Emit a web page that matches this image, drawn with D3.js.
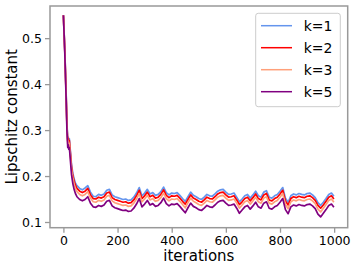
<!DOCTYPE html>
<html>
<head>
<meta charset="utf-8">
<script src="https://cdn.jsdelivr.net/npm/d3@7"></script>
<style>
    body { margin: 0; background: #ffffff; }
    text { font-family: "DejaVu Sans", sans-serif; fill: #000000; }
</style>
</head>
<body>
<script>
(function(){

    //iterations sampled along the x axis
    var iterations = [0, 5, 10, 13, 16, 18, 20, 22, 25, 30, 35, 40, 45, 50,
        60, 70, 80, 90, 100, 110, 120, 130, 140, 150,
        160, 170, 180, 190, 200, 210, 220, 230, 240, 250,
        260, 270, 280, 290, 300, 310, 320, 330, 340, 350,
        360, 370, 380, 390, 400, 410, 420, 430, 440, 450,
        460, 470, 480, 490, 500, 510, 520, 530, 540, 550,
        560, 570, 580, 590, 600, 610, 620, 630, 640, 650,
        660, 670, 680, 690, 700, 710, 720, 730, 740, 750,
        760, 770, 780, 790, 800, 810, 820, 830, 840, 850,
        860, 870, 880, 890, 900, 910, 920, 930, 940, 950,
        960, 970, 980, 990, 999];

    //Lipschitz constant for each k
    var k1 = [0.550, 0.478, 0.382, 0.315, 0.280, 0.285, 0.277, 0.281, 0.260, 0.225, 0.205, 0.193, 0.184, 0.179,
        0.173, 0.170, 0.174, 0.179, 0.165, 0.156, 0.155, 0.160, 0.158, 0.161,
        0.169, 0.171, 0.159, 0.155, 0.153, 0.151, 0.149, 0.150, 0.147, 0.148,
        0.154, 0.163, 0.175, 0.157, 0.163, 0.171, 0.161, 0.164, 0.158, 0.160,
        0.166, 0.176, 0.164, 0.159, 0.163, 0.162, 0.164, 0.158, 0.151, 0.145,
        0.155, 0.165, 0.158, 0.155, 0.151, 0.149, 0.154, 0.160, 0.157, 0.156,
        0.161, 0.167, 0.170, 0.171, 0.165, 0.160, 0.161, 0.163, 0.154, 0.144,
        0.150, 0.157, 0.160, 0.152, 0.159, 0.167, 0.157, 0.154, 0.165, 0.168,
        0.154, 0.152, 0.157, 0.160, 0.167, 0.175, 0.152, 0.143, 0.157, 0.161,
        0.159, 0.162, 0.160, 0.159, 0.162, 0.163, 0.159, 0.153, 0.142, 0.136,
        0.143, 0.151, 0.160, 0.163, 0.156];
    var k2 = [0.550, 0.476, 0.379, 0.312, 0.276, 0.282, 0.273, 0.277, 0.256, 0.220, 0.200, 0.188, 0.179, 0.173,
        0.167, 0.164, 0.167, 0.173, 0.159, 0.151, 0.150, 0.154, 0.152, 0.155,
        0.163, 0.165, 0.153, 0.149, 0.147, 0.145, 0.143, 0.144, 0.141, 0.142,
        0.148, 0.157, 0.169, 0.151, 0.157, 0.165, 0.155, 0.158, 0.152, 0.154,
        0.160, 0.170, 0.158, 0.153, 0.157, 0.156, 0.158, 0.152, 0.145, 0.139,
        0.149, 0.159, 0.152, 0.149, 0.145, 0.143, 0.148, 0.154, 0.151, 0.150,
        0.155, 0.161, 0.164, 0.165, 0.159, 0.154, 0.155, 0.157, 0.148, 0.138,
        0.144, 0.151, 0.154, 0.146, 0.153, 0.161, 0.151, 0.148, 0.159, 0.162,
        0.148, 0.146, 0.151, 0.154, 0.161, 0.169, 0.146, 0.137, 0.151, 0.155,
        0.153, 0.156, 0.154, 0.153, 0.156, 0.157, 0.153, 0.147, 0.136, 0.130,
        0.137, 0.145, 0.154, 0.157, 0.150];
    var k3 = [0.550, 0.473, 0.375, 0.307, 0.270, 0.276, 0.267, 0.271, 0.250, 0.214, 0.194, 0.181, 0.172, 0.166,
        0.160, 0.157, 0.160, 0.166, 0.152, 0.144, 0.143, 0.147, 0.145, 0.148,
        0.156, 0.158, 0.146, 0.142, 0.140, 0.138, 0.136, 0.137, 0.134, 0.135,
        0.141, 0.150, 0.162, 0.144, 0.150, 0.158, 0.148, 0.151, 0.145, 0.147,
        0.153, 0.163, 0.151, 0.146, 0.150, 0.149, 0.151, 0.145, 0.138, 0.131,
        0.142, 0.152, 0.145, 0.142, 0.138, 0.136, 0.141, 0.147, 0.144, 0.143,
        0.148, 0.154, 0.157, 0.158, 0.152, 0.147, 0.148, 0.150, 0.141, 0.130,
        0.137, 0.144, 0.147, 0.139, 0.146, 0.154, 0.144, 0.141, 0.152, 0.155,
        0.141, 0.139, 0.144, 0.147, 0.154, 0.162, 0.138, 0.129, 0.144, 0.148,
        0.146, 0.149, 0.147, 0.146, 0.149, 0.150, 0.146, 0.140, 0.128, 0.122,
        0.130, 0.138, 0.147, 0.150, 0.143];
    var k5 = [0.550, 0.470, 0.370, 0.300, 0.262, 0.268, 0.258, 0.262, 0.240, 0.203, 0.183, 0.170, 0.161, 0.155,
        0.149, 0.146, 0.149, 0.155, 0.141, 0.133, 0.132, 0.136, 0.134, 0.137,
        0.145, 0.147, 0.135, 0.131, 0.129, 0.127, 0.125, 0.126, 0.123, 0.124,
        0.130, 0.139, 0.151, 0.133, 0.139, 0.147, 0.137, 0.140, 0.134, 0.136,
        0.142, 0.152, 0.140, 0.135, 0.139, 0.138, 0.140, 0.134, 0.127, 0.120,
        0.131, 0.141, 0.134, 0.131, 0.127, 0.125, 0.130, 0.136, 0.133, 0.132,
        0.137, 0.143, 0.146, 0.147, 0.141, 0.136, 0.137, 0.139, 0.130, 0.119,
        0.126, 0.133, 0.136, 0.128, 0.135, 0.143, 0.133, 0.130, 0.141, 0.144,
        0.130, 0.128, 0.133, 0.136, 0.143, 0.151, 0.127, 0.118, 0.133, 0.137,
        0.135, 0.138, 0.136, 0.135, 0.138, 0.139, 0.135, 0.129, 0.117, 0.111,
        0.119, 0.127, 0.136, 0.139, 0.132];

    var seriesNames = ["k=1", "k=2", "k=3", "k=5"];
    var seriesColors = ["#6495ed", "#ff0000", "#ffa07a", "#800080"];
    var xTicks = [0, 200, 400, 600, 800, 1000];
    var yTicks = [0.1, 0.2, 0.3, 0.4, 0.5];

    //frame dimensions
    var width = 357,
        height = 270,
        left = 50,
        right = 347.7,
        top = 6,
        bottom = 227.7;

    var svg = d3.select("body")
        .append("svg")
        .attr("width", width)
        .attr("height", height);

    //scales
    var xScale = d3.scaleLinear()
        .domain([-49.5, 1050])
        .range([left, right]);

    var yScale = d3.scaleLinear()
        .domain([0.0876, 0.570])
        .range([bottom, top]);

    var line = d3.line()
        .x(function(d){ return xScale(d[0]); })
        .y(function(d){ return yScale(d[1]); });

    //draw lines, k=1 first so k=5 ends on top
    [k1, k2, k3, k5].forEach(function(vals, i){
        var pts = iterations.map(function(it, j){ return [it, vals[j]]; });
        svg.append("path")
            .datum(pts)
            .attr("fill", "none")
            .attr("stroke", seriesColors[i])
            .attr("stroke-width", 1.7)
            .attr("stroke-linejoin", "round")
            .attr("d", line);
    });

    //axes
    var xAxis = svg.append("g")
        .attr("transform", "translate(0," + bottom + ")")
        .call(d3.axisBottom(xScale).tickValues(xTicks).tickSize(5).tickPadding(3).tickFormat(d3.format("d")));

    var yAxis = svg.append("g")
        .attr("transform", "translate(" + left + ",0)")
        .call(d3.axisLeft(yScale).tickValues(yTicks).tickSize(5).tickPadding(3).tickFormat(d3.format(".1f")));

    [xAxis, yAxis].forEach(function(ax){
        ax.select(".domain").remove();
        ax.selectAll(".tick line").attr("stroke", "#999999").attr("stroke-width", 1.3);
        ax.selectAll(".tick text")
            .style("font-family", "DejaVu Sans")
            .style("font-size", "12.5px")
            .attr("fill", "#000000");
    });

    //frame around plot area
    svg.append("rect")
        .attr("x", left)
        .attr("y", top)
        .attr("width", right - left)
        .attr("height", bottom - top)
        .attr("fill", "none")
        .attr("stroke", "#999999")
        .attr("stroke-width", 1.5);

    //axis titles
    svg.append("text")
        .attr("x", (left + right) / 2)
        .attr("y", 261)
        .attr("text-anchor", "middle")
        .style("font-size", "15px")
        .text("iterations");

    svg.append("text")
        .attr("transform", "translate(17," + ((top + bottom) / 2) + ") rotate(-90)")
        .attr("text-anchor", "middle")
        .style("font-size", "15px")
        .text("Lipschitz constant");

    //legend
    var legend = svg.append("g");
    legend.append("rect")
        .attr("x", 255.7)
        .attr("y", 13.3)
        .attr("width", 84.6)
        .attr("height", 93.4)
        .attr("rx", 2.5)
        .attr("fill", "#ffffff")
        .attr("fill-opacity", 0.8)
        .attr("stroke", "#cccccc")
        .attr("stroke-width", 1);

    seriesNames.forEach(function(name, i){
        var y = 25.7 + i * 22;
        legend.append("line")
            .attr("x1", 261)
            .attr("x2", 292)
            .attr("y1", y)
            .attr("y2", y)
            .attr("stroke", seriesColors[i])
            .attr("stroke-width", 1.5);
        legend.append("text")
            .attr("x", 303.7)
            .attr("y", y + 5)
            .style("font-size", "14px")
            .text(name);
    });
})();
</script>
</body>
</html>
